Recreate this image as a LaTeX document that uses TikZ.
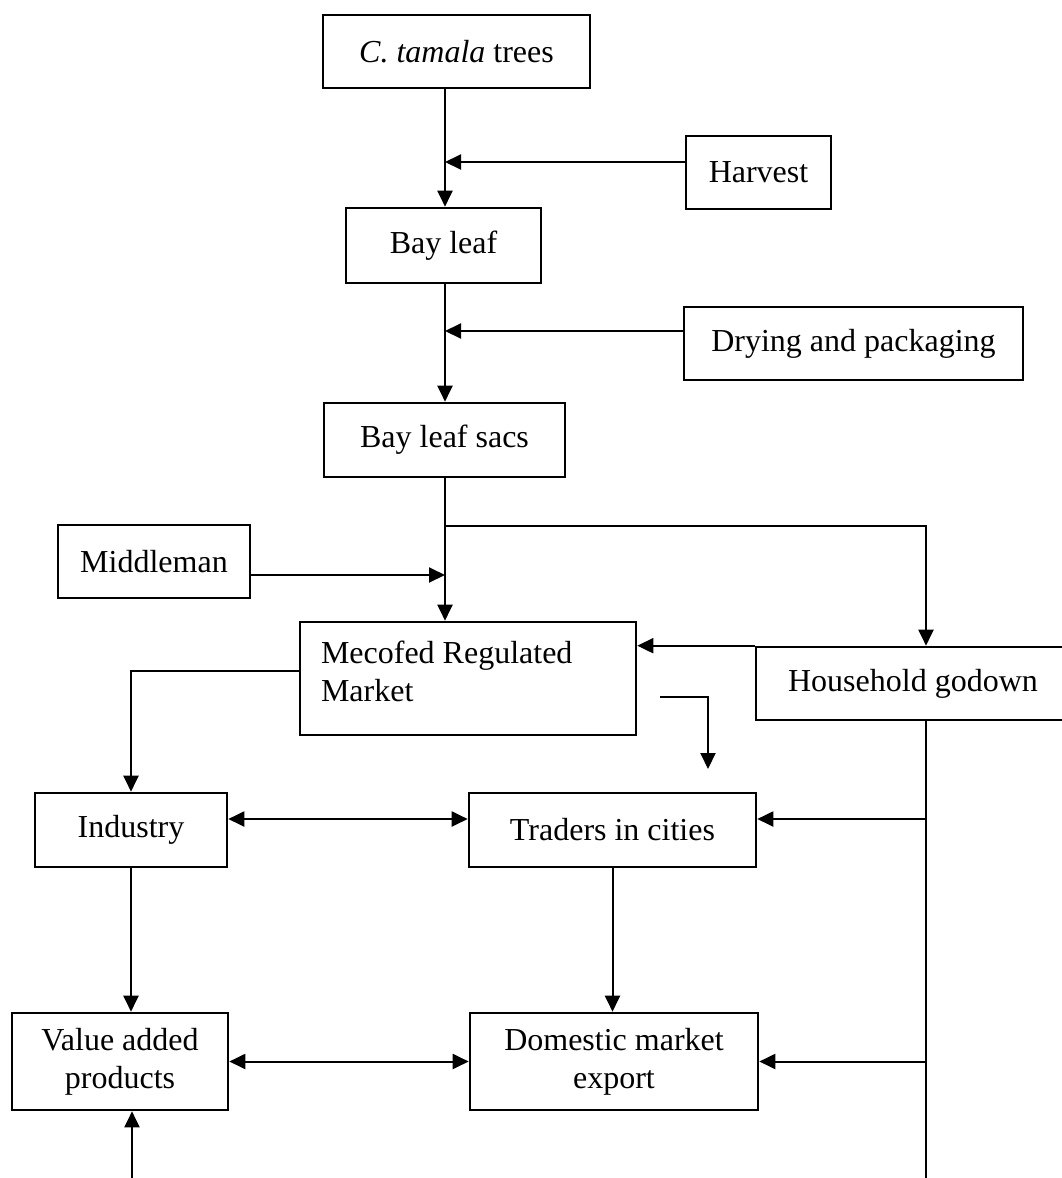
\documentclass[tikz,border=0pt]{standalone}
\usepackage{fontspec}
\setmainfont{Liberation Serif}
\usetikzlibrary{arrows.meta}
\begin{document}
\begin{tikzpicture}[x=0.5pt,y=-0.5pt,
  every node/.style={font=\fontsize{16}{19}\selectfont},
  box/.style={draw,line width=1.3pt,inner sep=0pt,align=center},
  line/.style={line width=1pt},
  arr/.style={line,-{Triangle[length=8pt,width=7.5pt]}},
  dbl/.style={line,{Triangle[length=8pt,width=7.5pt]}-{Triangle[length=8pt,width=7.5pt]}}]
\useasboundingbox (0,0) rectangle (1061,1178);
\node[box,minimum width=133.5pt,minimum height=36.5pt] (tamala) at (456.5,51.5) {\textit{C. tamala} trees};
\node[box,minimum width=72.5pt,minimum height=36.5pt] (harvest) at (758.5,172.5) {Harvest};
\node[box,minimum width=97.5pt,minimum height=37.5pt] (bayleaf) at (443.5,245.5) {Bay leaf};
\node[box,minimum width=169.5pt,minimum height=36.5pt] (drying) at (853.5,343.5) {Drying and packaging};
\node[box,minimum width=120.5pt,minimum height=37pt] (sacs) at (444.5,440) {Bay leaf sacs};
\node[box,minimum width=96pt,minimum height=36.5pt] (middleman) at (154,561.5) {Middleman};
\node[box,minimum width=168pt,minimum height=56.5pt,align=flush left,text width=147pt,text depth=26pt] (mecofed) at (468,678.5) {Mecofed Regulated\\Market};
\node[box,minimum width=157pt,minimum height=36.5pt] (household) at (913,683.5) {Household godown};
\node[box,minimum width=96pt,minimum height=37pt] (industry) at (131,830) {Industry};
\node[box,minimum width=143.5pt,minimum height=37pt] (traders) at (612.5,830) {Traders in cities};
\node[box,minimum width=108pt,minimum height=48.5pt] (value) at (120,1061.5) {Value added\\products};
\node[box,minimum width=144pt,minimum height=48.5pt] (domestic) at (614,1061.5) {Domestic market\\export};
\coordinate (trunk) at (445,0);
\coordinate (fork) at (445,526);
\coordinate (drop) at (926,1178);
\coordinate (rise) at (132,1178);
\coordinate (hook) at (660,697);
\coordinate (hookend) at (708,769);
% main chain down the trunk
\draw[arr] (tamala.south -| trunk) -- (bayleaf.north -| trunk);
\draw[arr] (bayleaf.south -| trunk) -- (sacs.north -| trunk);
\draw[arr] (sacs.south -| trunk) -- (mecofed.north -| trunk);
\draw[arr] ([yshift=5.25pt]harvest.west) -- ([yshift=5.25pt]harvest.west -| trunk);
\draw[arr] ([yshift=6.25pt]drying.west) -- ([yshift=6.25pt]drying.west -| trunk);
\draw[arr] ([yshift=-6.75pt]middleman.east) -- ([yshift=-6.75pt]middleman.east -| trunk);
\draw[arr] (fork) -| (household.north -| drop);
\draw[arr] (household.north west) -- (household.north west -| mecofed.east);
\draw[arr] ([yshift=3.75pt]mecofed.west) -| (industry.north);
\draw[arr] (hook) -| (hookend);
% godown supplies
\draw[line] (household.south -| drop) -- (drop);
\draw[arr] ([yshift=5.5pt]traders.east -| drop) -- ([yshift=5.5pt]traders.east);
\draw[arr] (domestic.east -| drop) -- (domestic.east);
\draw[dbl] ([yshift=5.5pt]industry.east) -- ([yshift=5.5pt]traders.west);
\draw[arr] (industry.south) -- (industry.south |- value.north);
\draw[arr] (traders.south) -- (traders.south |- domestic.north);
\draw[dbl] (value.east) -- (domestic.west);
\draw[arr] (rise) -- (rise |- value.south);
\end{tikzpicture}
\end{document}
